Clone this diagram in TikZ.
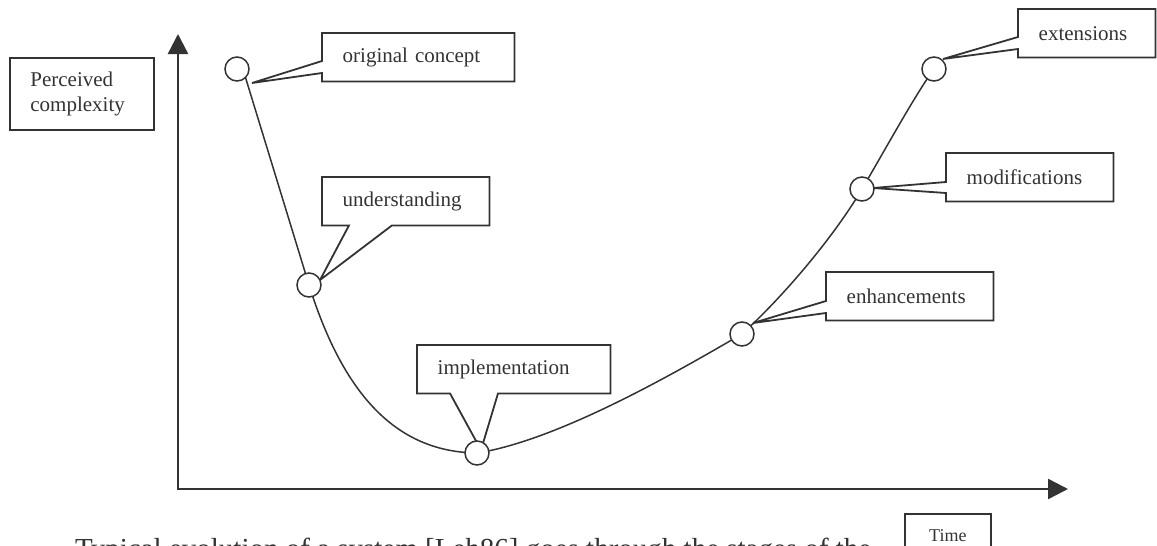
\documentclass[tikz,border=0pt]{standalone}
\usepackage{fontspec}
\setmainfont{Liberation Serif}
\usetikzlibrary{arrows.meta,calc}
\definecolor{ink}{HTML}{333333}
\begin{document}
\begin{tikzpicture}[x=1pt,y=-1pt,
  every node/.style={text=ink},
  lbl/.style={anchor=north west, inner xsep=20.5pt, inner ysep=0pt, minimum height=48pt,
    align=left, text width=#1, font=\fontsize{21}{25}\selectfont},
  pt/.style={circle, draw=ink, line width=1.5pt, fill=white, minimum size=24pt, inner sep=0pt},
  outline/.style={draw=ink, line width=1.8pt, line join=miter},
  curve/.style={draw=ink, line width=1.5pt},
  axis/.style={draw=ink, line width=2.4pt,
    {Triangle[length=20pt,width=20pt]}-{Triangle[length=20pt,width=20pt]}}
]
\clip (0,0) rectangle (1157,546);

% axes
\coordinate (o) at (178,489);
\coordinate (yt) at (178,34);
\coordinate (xt) at (1068,489);
\draw[axis] (yt) -- (o) -- (xt);

% axis labels
\node[lbl=103pt, draw=ink, line width=1.8pt, minimum height=72pt] (pc) at (9,57) {Perceived\\complexity};
\node[draw=ink, line width=1.8pt, anchor=north west, minimum width=86pt, minimum height=44pt,
  inner sep=0pt, font=\fontsize{18}{20}\selectfont] (time) at (904,513) {Time};

% points on the curve
\coordinate (c1p) at (237,69);
\coordinate (c2p) at (309,285);
\coordinate (c3p) at (477,453);
\coordinate (c4p) at (742,334);
\coordinate (c5p) at (862,189);
\coordinate (c6p) at (934,69);

% pointer tips
\coordinate (t1) at (252,83);
\coordinate (t2) at (320,280);
\coordinate (t3) at (481,450);
\coordinate (t4) at (753,323);
\coordinate (t5) at (873,188);
\coordinate (t6) at (943,59);

% curve
\draw[curve] ($(c1p)+(8.5,8.5)$) -- (c2p);
\draw[curve] (c2p) .. controls (345,400) and (400,452) .. (c3p)
  .. controls (560,440) and (680,370) .. (c4p)
  .. controls (785,295) and (835,235) .. (c5p)
  .. controls (885,150) and (915,95) .. (c6p);

% callout labels
\node[lbl=151pt] (oc) at (322,33) {original concept};
\node[lbl=126pt] (und) at (322,177) {understanding};
\node[lbl=152pt] (imp) at (417,345) {implementation};
\node[lbl=126pt] (enh) at (826,272) {enhancements};
\node[lbl=126pt] (mod) at (946,153) {modifications};
\node[lbl=96pt] (ext) at (1018,9) {extensions};

\draw[outline] (oc.north west) -- (oc.north east) -- (oc.south east) -- (oc.south west)
  -- ($(oc.north west)+(0,40)$) -- (t1) -- ($(oc.north west)+(0,28)$) -- cycle;
\draw[outline] (und.north west) -- (und.north east) -- (und.south east)
  -- ($(und.south west)+(70,0)$) -- (t2) -- ($(und.south west)+(27,0)$) -- (und.south west) -- cycle;
\draw[outline] (imp.north west) -- (imp.north east) -- (imp.south east)
  -- ($(imp.south west)+(81,0)$) -- (t3) -- ($(imp.south west)+(33,0)$) -- (imp.south west) -- cycle;
\draw[outline] (enh.north west) -- (enh.north east) -- (enh.south east) -- (enh.south west)
  -- ($(enh.north west)+(0,41)$) -- (t4) -- ($(enh.north west)+(0,29)$) -- cycle;
\draw[outline] (mod.north west) -- (mod.north east) -- (mod.south east) -- (mod.south west)
  -- ($(mod.north west)+(0,40)$) -- (t5) -- ($(mod.north west)+(0,29)$) -- cycle;
\draw[outline] (ext.north west) -- (ext.north east) -- (ext.south east) -- (ext.south west)
  -- ($(ext.north west)+(0,40)$) -- (t6) -- ($(ext.north west)+(0,28)$) -- cycle;

% circles
\node[pt] (c1) at (c1p) {};
\node[pt] (c2) at (c2p) {};
\node[pt] (c3) at (c3p) {};
\node[pt] (c4) at (c4p) {};
\node[pt] (c5) at (c5p) {};
\node[pt] (c6) at (c6p) {};

% clipped line of body text below the figure
\node[anchor=base west, inner sep=0pt, font=\fontsize{29}{33}\selectfont] (body) at (75,558)
  {Typical evolution of a system [Leh86] goes through the stages of the};
\end{tikzpicture}
\end{document}
